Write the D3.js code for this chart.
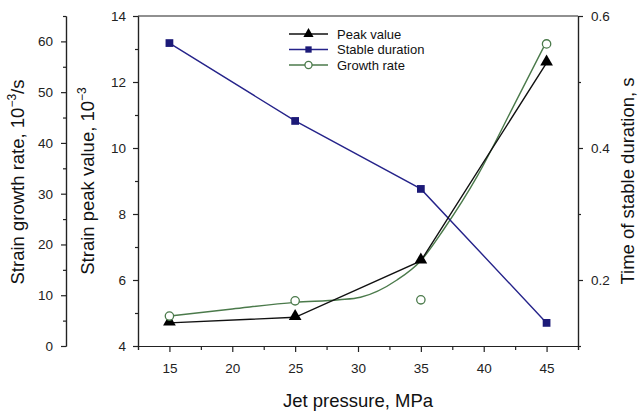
<!DOCTYPE html>
<html>
<head>
<meta charset="utf-8">
<script src="https://cdn.jsdelivr.net/npm/d3@7"></script>
<style>
  body { margin: 0; background: #fff; }
  svg text { font-family: "Liberation Sans", Arial, sans-serif; }
</style>
</head>
<body>
<svg id="chart"></svg>
<script>
'use strict'

// jet pressure, MPa
var pressure = [15, 25, 35, 45];
// strain peak value, 10^-3
var peakValue = [4.70, 4.87, 6.58, 12.58];
// time of stable duration, s
var stableDuration = [0.559, 0.441, 0.338, 0.135];
// strain growth rate, 10^-3/s
var growthRate = [5.9, 8.9, 9.1, 59.5];
// fitted growth rate curve
var fitPressure = [15, 20, 25, 28.5, 30.2, 33.1, 35, 36.8, 39.5, 42.3, 44.9];
var fitRate = [5.9, 7.3, 8.6, 9.1, 9.6, 13.0, 16.8, 22.9, 33.5, 46.9, 59.5];

var xTicks = [15, 20, 25, 30, 35, 40, 45];
var peakTicks = [4, 6, 8, 10, 12, 14];
var durationTicks = [0.2, 0.4, 0.6];
var rateTicks = [0, 10, 20, 30, 40, 50, 60];

var width = 639, height = 411;
var plotLeft = 138, plotRight = 578, plotTop = 16, plotBottom = 346;
var rateAxisX = 66;

var svg = d3.select("#chart")
    .attr("width", width)
    .attr("height", height);

var x = d3.scaleLinear().domain([12.5, 47.5]).range([plotLeft, plotRight]);
var yPeak = d3.scaleLinear().domain([4, 14]).range([plotBottom, plotTop]);
var yDur = d3.scaleLinear().domain([0.1, 0.6]).range([plotBottom, plotTop]);
var yRate = d3.scaleLinear().domain([0, 65]).range([plotBottom, plotTop]);

var navy = "#25238a";
var green = "#4b7a4b";

// frame top line
svg.append("line")
    .attr("x1", plotLeft).attr("x2", plotRight)
    .attr("y1", plotTop).attr("y2", plotTop)
    .attr("stroke", "#222").attr("stroke-width", 1.2);

function styleAxis(g) {
    g.selectAll(".domain").attr("stroke", "#222").attr("stroke-width", 1.2);
    g.selectAll(".tick line").attr("stroke", "#222").attr("stroke-width", 1.2);
    g.selectAll(".tick text").attr("fill", "#222").style("font-size", "13.5px")
        .style("font-family", "Liberation Sans, Arial, sans-serif");
}

// minor ticks first, then the labelled majors
svg.append("g")
    .attr("transform", `translate(0,${plotBottom})`)
    .call(d3.axisBottom(x).tickValues(d3.range(12.5, 47.6, 5)).tickSize(4).tickFormat(""))
    .call(styleAxis);
svg.append("g")
    .attr("transform", `translate(0,${plotBottom})`)
    .call(d3.axisBottom(x).tickValues(xTicks).tickSize(6).tickPadding(11).tickSizeOuter(0))
    .call(styleAxis);

svg.append("g")
    .attr("transform", `translate(${plotLeft},0)`)
    .call(d3.axisLeft(yPeak).tickValues([5, 7, 9, 11, 13]).tickSize(3).tickFormat("").tickSizeOuter(0))
    .call(styleAxis);
svg.append("g")
    .attr("transform", `translate(${plotLeft},0)`)
    .call(d3.axisLeft(yPeak).tickValues(peakTicks).tickSize(5).tickPadding(7).tickSizeOuter(0))
    .call(styleAxis);

svg.append("g")
    .attr("transform", `translate(${plotRight},0)`)
    .call(d3.axisRight(yDur).tickValues([0.1, 0.3, 0.5]).tickSize(3).tickFormat("").tickSizeOuter(0))
    .call(styleAxis);
svg.append("g")
    .attr("transform", `translate(${plotRight},0)`)
    .call(d3.axisRight(yDur).tickValues(durationTicks).tickSize(5).tickPadding(8)
        .tickFormat(d3.format(".1f")).tickSizeOuter(0))
    .call(styleAxis);

svg.append("g")
    .attr("transform", `translate(${rateAxisX},0)`)
    .call(d3.axisLeft(yRate).tickValues(d3.range(5, 66, 10)).tickSize(3).tickFormat("").tickSizeOuter(0))
    .call(styleAxis);
svg.append("g")
    .attr("transform", `translate(${rateAxisX},0)`)
    .call(d3.axisLeft(yRate).tickValues(rateTicks).tickSize(5).tickPadding(8).tickSizeOuter(0))
    .call(styleAxis);

// axis titles
function title(txt, sup, after, tx, ty, rot) {
    var t = svg.append("text")
        .attr("transform", `translate(${tx},${ty}) rotate(${rot})`)
        .attr("text-anchor", "middle")
        .attr("fill", "#111")
        .style("font-size", "18.5px")
        .text(txt);
    if (sup) {
        t.append("tspan").attr("dy", -8).style("font-size", "12px").text(sup);
        t.append("tspan").attr("dy", 8).text(after);
    }
}
title("Jet pressure, MPa", null, null, 358, 407, 0);
title("Strain growth rate, 10", "\u22123", "/s", 24, 182, -90);
title("Strain peak value, 10", "\u22123", "", 94, 181, -90);
title("Time of stable duration, s", null, null, 634, 181, -90);

// series
var peakLine = d3.line().x((d, i) => x(pressure[i])).y((d) => yPeak(d));
var durLine = d3.line().x((d, i) => x(pressure[i])).y((d) => yDur(d));
var fitLine = d3.line().x((d, i) => x(fitPressure[i])).y((d) => yRate(d)).curve(d3.curveMonotoneX);

svg.append("path").attr("d", fitLine(fitRate))
    .attr("fill", "none").attr("stroke", green).attr("stroke-width", 1.4);
svg.append("path").attr("d", durLine(stableDuration))
    .attr("fill", "none").attr("stroke", navy).attr("stroke-width", 1.4);
svg.append("path").attr("d", peakLine(peakValue))
    .attr("fill", "none").attr("stroke", "#111").attr("stroke-width", 1.4);

var tri = d3.symbol().type(d3.symbolTriangle).size(70);
var sq = d3.symbol().type(d3.symbolSquare).size(60);
var circ = d3.symbol().type(d3.symbolCircle).size(55);

svg.append("g").selectAll("path")
    .data(peakValue)
    .enter().append("path")
    .attr("d", tri)
    .attr("transform", (d, i) => `translate(${x(pressure[i])},${yPeak(d) - 1})`)
    .attr("fill", "#000");

svg.append("g").selectAll("path")
    .data(stableDuration)
    .enter().append("path")
    .attr("d", sq)
    .attr("transform", (d, i) => `translate(${x(pressure[i])},${yDur(d)})`)
    .attr("fill", "#1c1a78");

svg.append("g").selectAll("path")
    .data(growthRate)
    .enter().append("path")
    .attr("d", circ)
    .attr("transform", (d, i) => `translate(${x(pressure[i])},${yRate(d)})`)
    .attr("fill", "#fff").attr("stroke", green).attr("stroke-width", 1.3);

// legend
var legendItems = [
    { name: "Peak value", color: "#111", sym: d3.symbol().type(d3.symbolTriangle).size(45), fill: "#000" },
    { name: "Stable duration", color: navy, sym: d3.symbol().type(d3.symbolSquare).size(40), fill: "#1c1a78" },
    { name: "Growth rate", color: green, sym: d3.symbol().type(d3.symbolCircle).size(40), fill: "#fff" }
];
var legend = svg.append("g").selectAll("g")
    .data(legendItems)
    .enter().append("g")
    .attr("transform", (d, i) => `translate(289,${34 + i * 15.5})`);
legend.append("line")
    .attr("x1", 0).attr("x2", 39)
    .attr("stroke", (d) => d.color).attr("stroke-width", 1.4);
legend.append("path")
    .attr("d", (d) => d.sym())
    .attr("transform", "translate(19.5,0)")
    .attr("fill", (d) => d.fill)
    .attr("stroke", (d) => d.fill === "#fff" ? green : "none")
    .attr("stroke-width", 1.3);
legend.append("text")
    .attr("x", 48).attr("dy", "0.35em")
    .attr("fill", "#111")
    .style("font-size", "13px")
    .text((d) => d.name);
</script>
</body>
</html>
